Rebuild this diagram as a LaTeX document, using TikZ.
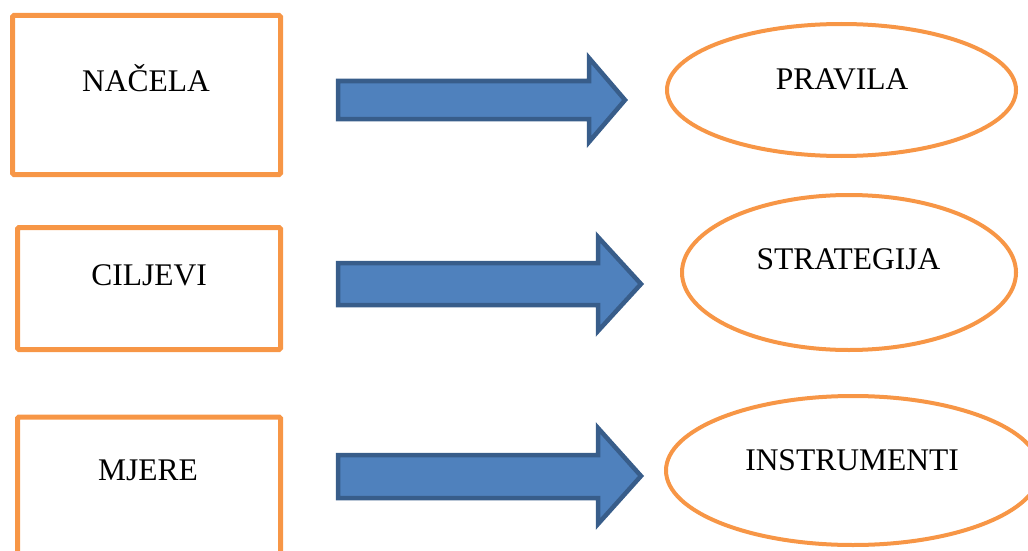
\documentclass[tikz,border=0pt]{standalone}
\usepackage{fontspec}
\setmainfont{Liberation Serif}
\usetikzlibrary{shapes.geometric}
\definecolor{boxorange}{HTML}{F79646}
\definecolor{arrowfill}{HTML}{4F81BD}
\definecolor{arrowline}{HTML}{385D8A}

\begin{document}
\begin{tikzpicture}[x=1pt,y=-1pt,
  box/.style={draw=boxorange,line width=5pt,rounded corners=1.5pt,inner sep=0pt,outer sep=0pt},
  oval/.style={ellipse,draw=boxorange,line width=4pt,inner sep=0pt,outer sep=0pt},
  blockarrow/.style={draw=arrowline,fill=arrowfill,line width=4.5pt,line join=miter},
  txt/.style={anchor=base,inner sep=0pt,font=\fontsize{31.5}{36}\selectfont}]
\useasboundingbox (0,0) rectangle (1028,551);
\clip (0,0) rectangle (1028,551);

%boxes
\node[box,minimum width=268pt,minimum height=159pt] (nacela) at (146.5,95) {};
\node[box,minimum width=263pt,minimum height=122pt] (ciljevi) at (149,288.5) {};
\node[box,minimum width=263pt,minimum height=160pt] (mjere) at (149,497) {};

%ovals
\node[oval,minimum width=349pt,minimum height=132pt] (pravila) at (841.5,90) {};
\node[oval,minimum width=334pt,minimum height=155pt] (strategija) at (849,272.5) {};
\node[oval,minimum width=374pt,minimum height=149pt] (instrumenti) at (853,470.5) {};

%texts
\node[txt] (nacelaT) at (146,92) {NAČELA};
\node[txt] (ciljeviT) at (149,285) {CILJEVI};
\node[txt] (mjereT) at (148,480) {MJERE};
\node[txt] (pravilaT) at (842,89) {PRAVILA};
\node[txt] (strategijaT) at (848.5,269) {STRATEGIJA};
\node[txt] (instrumentiT) at (852,470) {INSTRUMENTI};

%arrows
\draw[blockarrow] (338,81) -- (589,81) -- (589,58) -- (625,100) -- (589,142) -- (589,119) -- (338,119) -- cycle;
\draw[blockarrow] (338,263) -- (598,263) -- (598,237) -- (641,284) -- (598,331) -- (598,305) -- (338,305) -- cycle;
\draw[blockarrow] (338,455) -- (598,455) -- (598,428) -- (641,476) -- (598,524) -- (598,498) -- (338,498) -- cycle;
\end{tikzpicture}
\end{document}
